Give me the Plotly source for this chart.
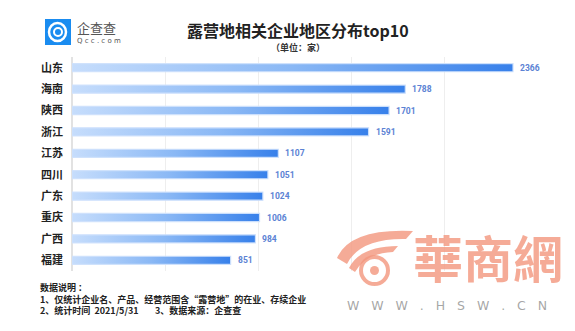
import plotly.graph_objects as go

# 露营地相关企业地区分布 top10（单位：家）
regions = ["山东", "海南", "陕西", "浙江", "江苏", "四川", "广东", "重庆", "广西", "福建"]
counts = [2366, 1788, 1701, 1591, 1107, 1051, 1024, 1006, 984, 851]

notes = [
    "数据说明 ：",
    "1、仅统计企业名、产品、经营范围含“露营地”的在业、存续企业",
    "2、统计时间  2021/5/31        3、数据来源：企查查",
]

W, H = 575, 331
L, R, T, B = 72, 37, 57, 60
PW, PH = W - L - R, H - T - B


def px(x):
    return (x - L) / PW


def py(y):
    return 1 - (y - T) / PH


def label(x, y, text, size, color, family="Noto Sans CJK SC",
          xanchor="center", yanchor="middle"):
    return dict(x=px(x), y=py(y), xref="paper", yref="paper",
                xanchor=xanchor, yanchor=yanchor, text=text, showarrow=False,
                align="left", font=dict(size=size, color=color, family=family))


fig = go.Figure()

half = 0.19
grad = dict(type="horizontal", colorscale=[[0, "#c6ddfc"], [0.5, "#8ab8f5"], [1, "#3780ea"]])
for i, (name, v) in enumerate(zip(regions, counts)):
    fig.add_trace(go.Scatter(
        x=[0, v, v, 0, 0],
        y=[i - half, i - half, i + half, i + half, i - half],
        fill="toself", fillgradient=grad,
        mode="lines", line=dict(color="rgba(205,224,252,0.95)", width=1.2),
        hoverinfo="skip", showlegend=False,
    ))

fig.update_xaxes(range=[0, 2500], dtick=500, showticklabels=False,
                 showgrid=True, gridcolor="#eeeeee", gridwidth=1,
                 zeroline=True, zerolinecolor="#e2e2e2", fixedrange=True)
fig.update_yaxes(range=[len(regions) - 0.5, -0.5], tickmode="array",
                 tickvals=list(range(len(regions))),
                 ticktext=[f"<b>{r}</b>" for r in regions],
                 tickfont=dict(size=11, color="#222", family="Noto Sans CJK SC"),
                 showgrid=False, zeroline=False, ticks="", ticklabelstandoff=8)

ann = []
# value labels beside each bar
for i, v in enumerate(counts):
    ann.append(dict(x=v, y=i, xref="x", yref="y", xanchor="left", yanchor="middle",
                    xshift=5, text=f"<b>{v}</b>", showarrow=False,
                    font=dict(size=8.5, color="#5b82d4", family="Roboto, Arial")))
# title
ann.append(label(298, 30, "<b>露营地相关企业地区分布top10</b>", 16, "#222"))
ann.append(label(298, 48, "<b>（单位：家）</b>", 9, "#333"))
# brand
ann.append(label(75, 28, "企查查", 13, "#555", xanchor="left"))
ann.append(label(75, 41, "Q c c . c o m", 7, "#555", family="DejaVu Sans", xanchor="left"))
# footnotes
ann.append(label(38, 279, "<br>".join(f"<b>{line}</b>" for line in notes), 9, "#222",
                 xanchor="left", yanchor="top"))
# watermark
salmon = "rgba(242,150,125,0.8)"
ann.append(label(488, 256, "<b>華商網</b>", 50, salmon, family="Noto Sans CJK TC"))
ann.append(label(447, 305, "W   W   W   .   H   S   W   .   C   N", 12.5,
                 "rgba(150,150,150,0.85)", family="DejaVu Sans"))

shapes = []
# brand icon
shapes.append(dict(type="rect", xref="paper", yref="paper",
                   x0=px(45), x1=px(71), y0=py(45), y1=py(19),
                   fillcolor="#1a8cf0", line=dict(width=0)))
shapes.append(dict(type="circle", xref="paper", yref="paper",
                   x0=px(49), x1=px(66), y0=py(41), y1=py(23),
                   fillcolor="rgba(0,0,0,0)", line=dict(color="white", width=2.5)))
shapes.append(dict(type="circle", xref="paper", yref="paper",
                   x0=px(54), x1=px(62), y0=py(36), y1=py(28),
                   fillcolor="rgba(0,0,0,0)", line=dict(color="white", width=2)))


def path(points):
    cmd = []
    for p in points:
        if p[0] == "M" or p[0] == "L":
            cmd.append(f"{p[0]} {px(p[1])},{py(p[2])}")
        elif p[0] == "Q":
            cmd.append(f"Q {px(p[1])},{py(p[2])} {px(p[3])},{py(p[4])}")
    return " ".join(cmd) + " Z"


# watermark eye emblem
shapes.append(dict(type="path", xref="paper", yref="paper",
                   path=path([("M", 337, 258), ("Q", 350, 228, 413, 231),
                              ("L", 406, 239), ("Q", 360, 238, 347, 264)]),
                   fillcolor=salmon, line=dict(width=0)))
shapes.append(dict(type="path", xref="paper", yref="paper",
                   path=path([("M", 349, 268), ("Q", 360, 246, 398, 246),
                              ("L", 393, 252), ("Q", 366, 253, 355, 272)]),
                   fillcolor=salmon, line=dict(width=0)))
shapes.append(dict(type="circle", xref="paper", yref="paper",
                   x0=px(361), x1=px(388), y0=py(284), y1=py(257),
                   fillcolor="rgba(0,0,0,0)", line=dict(color=salmon, width=4)))
shapes.append(dict(type="circle", xref="paper", yref="paper",
                   x0=px(370), x1=px(379), y0=py(275), y1=py(266),
                   fillcolor=salmon, line=dict(width=0)))

fig.update_layout(
    width=W, height=H,
    margin=dict(l=L, r=R, t=T, b=B),
    paper_bgcolor="white", plot_bgcolor="white",
    annotations=ann, shapes=shapes,
    font=dict(family="Noto Sans CJK SC"),
)

fig.write_html("out.html", config={"displayModeBar": False})
